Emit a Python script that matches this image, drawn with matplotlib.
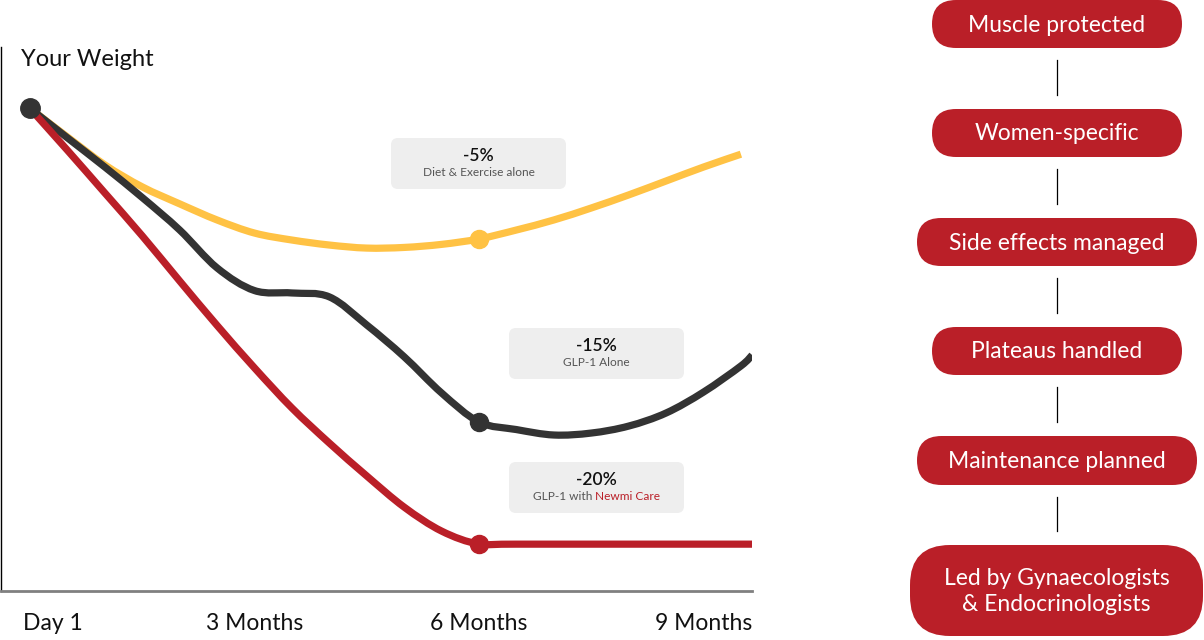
import matplotlib
matplotlib.use('Agg')
import matplotlib.pyplot as plt
import matplotlib.transforms as mtransforms
from matplotlib.patches import FancyBboxPatch, PathPatch
from matplotlib.path import Path

plt.rcParams['font.family'] = ['Lato', 'DejaVu Sans']

# weight change (%), x in months
months = [0, 0.5, 1, 1.5, 2, 2.5, 3, 3.5, 4, 4.5, 5, 5.5, 6, 6.5, 7, 7.5, 8, 8.5, 9, 9.5, 9.65]
diet = [0, -1.31, -2.59, -3.60, -4.38, -5.12, -5.72, -6.04, -6.27, -6.41, -6.38, -6.24,
        -5.99, -5.58, -5.12, -4.57, -3.97, -3.33, -2.69, -2.10]
glp1 = [0, -1.35, -2.69, -4.09, -5.58, -7.32, -8.36, -8.47, -8.65, -9.94, -11.40, -13.06,
        -14.39, -14.74, -14.99, -14.90, -14.58, -13.98, -13.02, -11.82, -11.32]
newmi_months = [0, 0.5, 1, 1.5, 2, 2.5, 3, 3.5, 4, 4.5, 5, 5.5, 6, 6.5, 9.65]
newmi = [0, -1.92, -3.88, -5.85, -7.92, -9.96, -11.91, -13.75, -15.36, -16.87, -18.30,
         -19.40, -20.0, -20.0, -20.0]

tick_pos = [0, 3, 6, 9]
tick_labels = ['Day 1', '3 Months', '6 Months', '9 Months']

callout_values = ['-5%', '-15%', '-20%']
callout_names = ['Diet & Exercise alone', 'GLP-1 Alone', 'GLP-1 with ']
brand = 'Newmi Care'

pills = ['Muscle protected', 'Women-specific', 'Side effects managed',
         'Plateaus handled', 'Maintenance planned',
         'Led by Gynaecologists\n& Endocrinologists']

YELLOW = '#FFC244'
DARK = '#333333'
RED = '#BA1F28'


def smooth_path(xs, ys):
    # catmull-rom through the read points, drawn as cubic bezier segments
    verts = [(xs[0], ys[0])]
    codes = [Path.MOVETO]
    n = len(xs)
    for i in range(n - 1):
        x0, y0 = (xs[i - 1], ys[i - 1]) if i > 0 else (xs[i], ys[i])
        x1, y1 = xs[i], ys[i]
        x2, y2 = xs[i + 1], ys[i + 1]
        x3, y3 = (xs[i + 2], ys[i + 2]) if i + 2 < n else (x2, y2)
        verts += [(x1 + (x2 - x0) / 6, y1 + (y2 - y0) / 6),
                  (x2 - (x3 - x1) / 6, y2 - (y3 - y1) / 6),
                  (x2, y2)]
        codes += [Path.CURVE4] * 3
    return Path(verts, codes)


fig = plt.figure(figsize=(12.04, 6.4), dpi=100)
ax = fig.add_axes([1 / 1204, 49 / 640, 751 / 1204, 544 / 640])

lw = 5.2
for xs, ys, c, z in [(months[:len(diet)], diet, YELLOW, 2), (months, glp1, DARK, 3),
                     (newmi_months, newmi, RED, 4)]:
    ax.add_patch(PathPatch(smooth_path(xs, ys), fc='none', ec=c, lw=lw,
                           capstyle='butt', joinstyle='round', zorder=z))

# 6 month markers
ax.plot(6, diet[12], 'o', color=YELLOW, ms=13, zorder=5)
ax.plot(6, glp1[12], 'o', color=DARK, ms=13, zorder=5)
ax.plot(6, newmi[12], 'o', color=RED, ms=13, zorder=5)
ax.plot(0, 0, 'o', color=DARK, ms=14, zorder=6)

ax.set_xlim(-0.3875, 9.648)
ax.set_ylim(-22.15, 2.82)

for s in ['top', 'right']:
    ax.spines[s].set_visible(False)
ax.spines['left'].set_color('black')
ax.spines['left'].set_linewidth(1)
ax.spines['bottom'].set_color('#808080')
ax.spines['bottom'].set_linewidth(2)
ax.set_yticks([])
ax.set_xticks(tick_pos)
ax.set_xticklabels(tick_labels, fontsize=16.5, color='#111111')
ax.tick_params(axis='x', length=0, pad=16)
first = ax.get_xticklabels()[0]
first.set_transform(first.get_transform() + mtransforms.ScaledTranslation(23 / 100, 0, fig.dpi_scale_trans))

# overlay in pixel coordinates for the labels and side panel
ov = fig.add_axes([0, 0, 1, 1])
ov.set_xlim(0, 1204)
ov.set_ylim(640, 0)
ov.axis('off')

ov.text(21, 59, 'Your Weight', fontsize=17, color='#111111', va='center', ha='left')

boxes = [(391, 138), (509, 328), (509, 462)]
r = fig.canvas.get_renderer()
for (bx, by), val, name in zip(boxes, callout_values, callout_names):
    ov.add_patch(FancyBboxPatch((bx, by), 175, 51, boxstyle='round,pad=0,rounding_size=7',
                                fc='#EEEEEE', ec='none'))
    cx = bx + 87.5
    ov.text(cx, by + 18, val, fontsize=12.5, fontweight='semibold', color='#111111',
            ha='center', va='center')
    if name.endswith(' '):
        t1 = ov.text(0, by + 35, name, fontsize=8.6, color='#555555', ha='left', va='center')
        t2 = ov.text(0, by + 35, brand, fontsize=8.6, color=RED, ha='left', va='center')
        w1 = t1.get_window_extent(r).width
        w2 = t2.get_window_extent(r).width
        x0 = cx - (w1 + w2) / 2
        t1.set_x(x0)
        t2.set_x(x0 + w1)
    else:
        ov.text(cx, by + 35, name, fontsize=8.6, color='#555555', ha='center', va='center')

pill_boxes = [(932, 0, 250, 48), (932, 109, 250, 48), (917, 218, 280, 48),
              (932, 327, 250, 48), (917, 436, 280, 49), (910, 545, 293, 91)]
for (px, py, pw, ph), label in zip(pill_boxes, pills):
    ov.add_patch(FancyBboxPatch((px, py), pw, ph,
                                boxstyle='round,pad=0,rounding_size=%f' % (min(ph / 2, 40)),
                                fc=RED, ec='none'))
    ov.text(px + pw / 2, py + ph / 2 + 1, label, fontsize=16.5, color='white',
            ha='center', va='center', linespacing=1.25)

for (px, py, pw, ph), (nx, ny, nw, nh) in zip(pill_boxes[:-1], pill_boxes[1:]):
    ov.plot([1057, 1057], [py + ph + 12, ny - 14], color='black', lw=0.9)

fig.savefig('out.png', dpi=100)
